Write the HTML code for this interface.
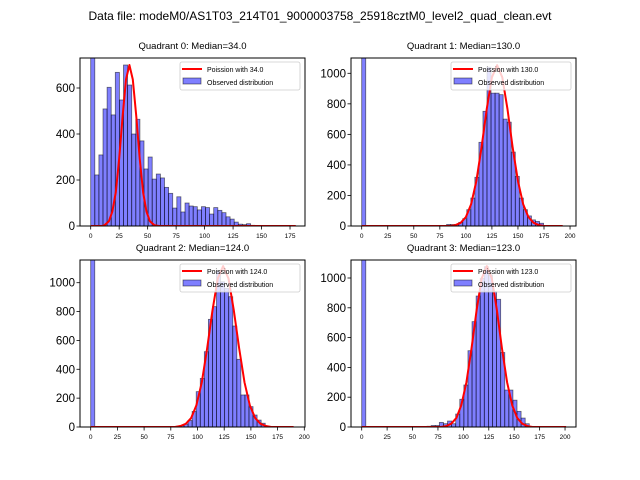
<!DOCTYPE html>
<html><head><meta charset="utf-8"><style>
body{margin:0;background:#fff;}
svg{display:block;font-family:"Liberation Sans","DejaVu Sans",sans-serif;}
</style></head><body>
<svg id="fig" width="640" height="480" xmlns="http://www.w3.org/2000/svg">
<rect width="640" height="480" fill="#fff"/>
<text x="320" y="20" text-anchor="middle" font-size="12">Data file: modeM0/AS1T03_214T01_9000003758_25918cztM0_level2_quad_clean.evt</text>
</svg>
<script>
// Quadrant 0
const q0Counts = [1400,222,309,509,603,483,668,548,700,613,400,464,370,248,300,204,226,209,168,142,78,127,61,100,87,84,70,84,80,52,80,68,58,40,30,17,8,6,10,3,2,2,1,1,1,0,0,0,0,1];
const q0CurveX = [0,10,12,16,19,22,25,28,31,34,37,40,43,46,49,52,56,60,180];
const q0CurveY = [0,0,3,21,62,147,294,476,637,700,637,476,294,147,62,21,3,0,0];
// Quadrant 1
const q1Counts = [2000,0,0,0,0,0,0,0,0,0,0,0,0,0,0,0,0,0,0,0,0,10,10,10,24,48,107,183,319,548,751,1040,870,870,860,700,680,484,325,183,107,66,40,30,18,0,0,0,0,0];
const q1CurveX = [0,85,90,95,100,105,110,115,120,125,130,135,140,145,150,155,160,165,170,175,193];
const q1CurveY = [0,0,6,21,59,142,293,513,765,973,1054,973,765,513,293,142,59,21,6,0,0];
// Quadrant 2
const q2Counts = [2000,0,0,0,0,0,0,0,0,0,0,0,0,0,0,0,0,0,0,0,0,5,10,20,45,108,245,337,522,746,834,1080,1007,961,903,700,469,222,222,141,83,48,26,5,0,0,0,0,0,0];
const q2CurveX = [0,79,84,89,94,99,104,109,114,119,124,129,134,139,144,149,154,159,164,169,190];
const q2CurveY = [0,0,7,22,62,151,310,543,809,1029,1115,1029,809,543,310,151,62,22,7,0,0];
// Quadrant 3
const q3Counts = [2000,0,0,0,0,0,0,0,0,0,0,0,0,0,0,0,5,10,10,31,22,40,22,87,186,282,512,707,879,998,1076,1020,909,857,500,248,248,180,105,60,22,0,0,0,0,0,0,0,0,0];
const q3CurveX = [0,78,83,88,93,98,103,108,113,118,123,128,133,138,143,148,153,158,163,168,201];
const q3CurveY = [0,0,6,22,60,146,300,526,784,997,1080,997,784,526,300,146,60,22,6,0,0];

const xTicks0 = [0,25,50,75,100,125,150,175];
const xTicks = [0,25,50,75,100,125,150,175,200];
const yTicks0 = [0,200,400,600];
const yTicks = [0,200,400,600,800,1000];

const NS = "http://www.w3.org/2000/svg";
const svg = document.getElementById('fig');
function mk(tag, attrs, parent){const e=document.createElementNS(NS,tag);for(const k in attrs)e.setAttribute(k,attrs[k]);(parent||svg).appendChild(e);return e;}

const panels = [
 {q:0,L:80,R:305,T:58,B:226,x0:90.7,xs:1.139,ys:0.23,bw:3.6,counts:q0Counts,cx:q0CurveX,cy:q0CurveY,xt:xTicks0,yt:yTicks0,lam:"34.0",med:"34.0"},
 {q:1,L:351,R:576,T:58,B:226,x0:361.7,xs:1.0417,ys:0.1527,bw:3.88,counts:q1Counts,cx:q1CurveX,cy:q1CurveY,xt:xTicks,yt:yTicks,lam:"130.0",med:"130.0"},
 {q:2,L:80,R:305,T:260,B:427,x0:90.7,xs:1.068,ys:0.1443,bw:3.8,counts:q2Counts,cx:q2CurveX,cy:q2CurveY,xt:xTicks,yt:yTicks,lam:"124.0",med:"124.0"},
 {q:3,L:351,R:576,T:260,B:427,x0:361.7,xs:1.0167,ys:0.149,bw:4.02,counts:q3Counts,cx:q3CurveX,cy:q3CurveY,xt:xTicks,yt:yTicks,lam:"123.0",med:"123.0"}
];

panels.forEach(p=>{
  const xS = v => p.x0 + v*p.xs;
  const yS = v => p.B - v*p.ys;
  const g = mk('g',{});
  
  
  const clipId='clip'+p.q;
  const cp=mk('clipPath',{id:clipId},g);
  mk('rect',{x:p.L,y:p.T,width:p.R-p.L,height:p.B-p.T},cp);
  const plot=mk('g',{'clip-path':'url(#'+clipId+')'},g);
  p.counts.forEach((c,i)=>{
    if(c<=0) return;
    const x1=xS(i*p.bw), x2=xS((i+1)*p.bw);
    const r=mk('rect',{x:x1,y:yS(c),width:x2-x1,height:p.B-yS(c),fill:'rgba(0,0,255,0.5)',stroke:'rgba(0,0,0,0.55)','stroke-width':0.8},plot);
    
    
  });
  const pts=p.cx.map((x,i)=>xS(x).toFixed(1)+','+yS(p.cy[i]).toFixed(1)).join(' ');
  const pl=mk('polyline',{points:pts,fill:'none',stroke:'#ff0000','stroke-width':2,'stroke-linejoin':'round'},plot);
  
  
  mk('rect',{x:p.L,y:p.T,width:p.R-p.L,height:p.B-p.T,fill:'none',stroke:'#000','stroke-width':1},g);
  p.xt.forEach(t=>{
    const x=xS(t);
    mk('line',{x1:x,x2:x,y1:p.B,y2:p.B+3.5,stroke:'#000','stroke-width':0.8},g);
    const tx=mk('text',{x:x,y:p.B+12,'text-anchor':'middle','font-size':6.5},g);
    tx.textContent=t;
    
    
  });
  p.yt.forEach(t=>{
    const y=yS(t);
    mk('line',{x1:p.L-3.5,x2:p.L,y1:y,y2:y,stroke:'#000','stroke-width':0.8},g);
    const tx=mk('text',{x:p.L-5,y:y+4,'text-anchor':'end','font-size':11.5},g);
    tx.textContent=t;
    
    
  });
  const ti=mk('text',{x:(p.L+p.R)/2,y:p.T-9,'text-anchor':'middle','font-size':9.5},g);
  ti.textContent='Quadrant '+p.q+': Median='+p.med;
  
  
  const lg=mk('g',{},g);
  
  
  const lx=p.R-125, ly=p.T+4;
  mk('rect',{x:lx,y:ly,width:120,height:28,fill:'rgba(255,255,255,0.8)',stroke:'#ccc','stroke-width':0.8,rx:2},lg);
  mk('line',{x1:lx+2,x2:lx+22,y1:ly+7,y2:ly+7,stroke:'#ff0000','stroke-width':2},lg);
  mk('rect',{x:lx+3,y:ly+16,width:18,height:6,fill:'rgba(0,0,255,0.5)',stroke:'rgba(0,0,0,0.55)','stroke-width':0.8},lg);
  const t1=mk('text',{x:lx+27,y:ly+10,'font-size':7},lg);
  t1.textContent='Poission with '+p.lam;
  
  
  const t2=mk('text',{x:lx+27,y:ly+23,'font-size':7},lg);
  t2.textContent='Observed distribution';
  
  
});
</script>
</body></html>
